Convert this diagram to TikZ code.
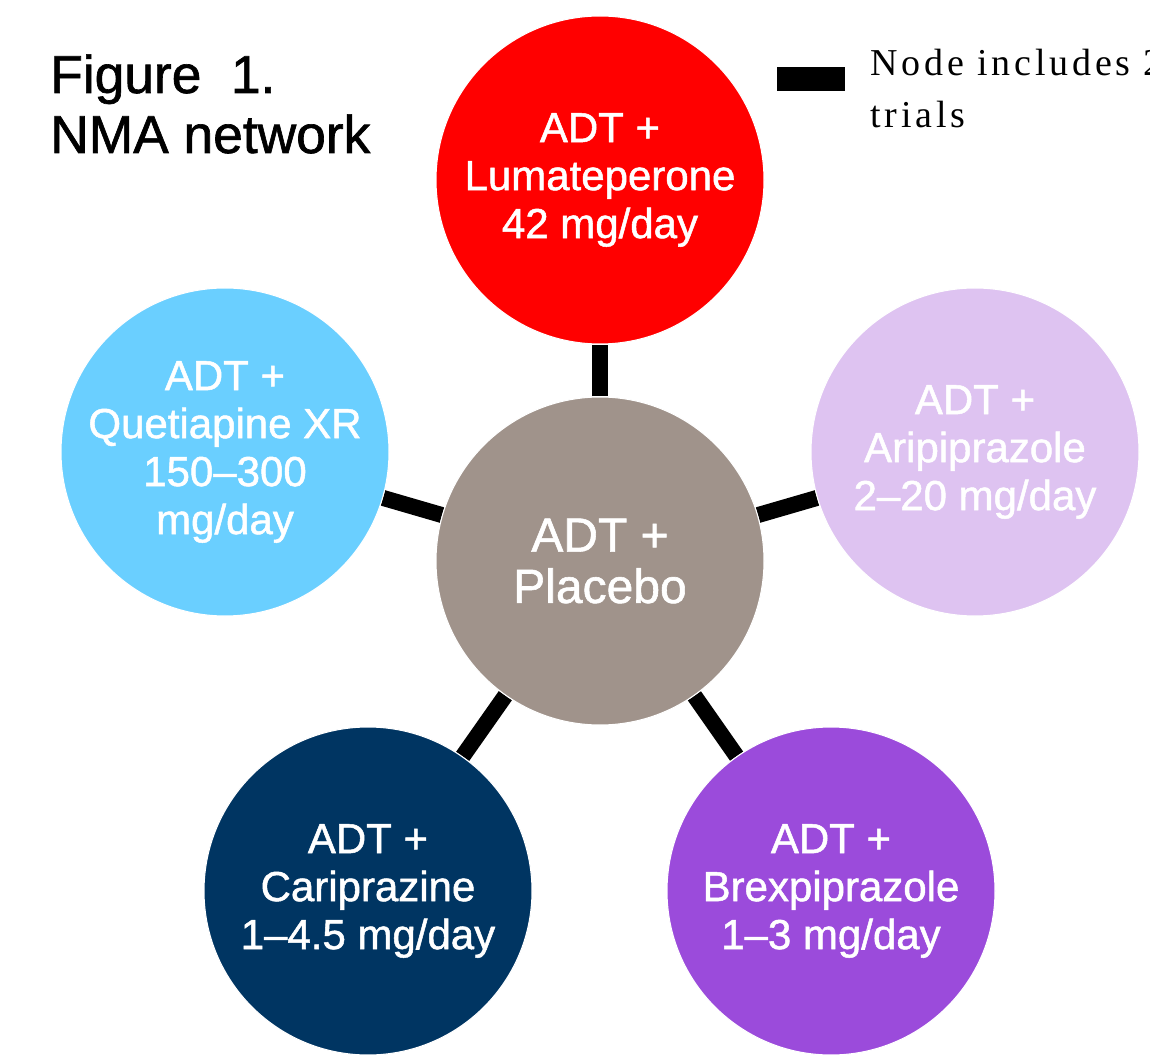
\documentclass[tikz,border=0pt]{standalone}
\usepackage{fontspec}
\setmainfont{Liberation Sans}
\newfontfamily\labelfont{Liberation Sans}[FakeBold=1.2]
\newfontfamily\legendfont{Liberation Serif}[LetterSpace=10]
\usetikzlibrary{backgrounds}

\definecolor{placebogray}{HTML}{A0938B}
\definecolor{lumared}{HTML}{FF0000}
\definecolor{quetblue}{HTML}{6ACFFF}
\definecolor{ariplav}{HTML}{DEC3F1}
\definecolor{caripnavy}{HTML}{003562}
\definecolor{brexpurple}{HTML}{9B4BDB}

\tikzset{
  arm/.style={circle, minimum size=246pt, inner sep=0pt, draw=white, line width=0.8pt,
    text=white, align=center, font=\labelfont\fontsize{31.5pt}{36pt}\selectfont},
  hub/.style={arm, font=\labelfont\fontsize{36pt}{38.5pt}\selectfont},
  link/.style={draw=black, line width=12pt, line cap=butt},
  titletext/.style={anchor=base west, inner sep=0pt, font=\labelfont\fontsize{40pt}{45pt}\selectfont},
  legendtext/.style={anchor=base west, inner sep=0pt, font=\legendfont\fontsize{28.5pt}{34pt}\selectfont},
}

\begin{document}
\begin{tikzpicture}[x=0.75pt, y=-0.75pt]
  \clip (0,0) rectangle (1150,1055);

  % title
  \node[titletext] (title1) at (50,93) {Figure\ \ 1.};
  \node[titletext] (title2) at (50,153) {NMA network};

  % legend
  \coordinate (legA) at (777,79);
  \coordinate (legB) at (845,79);
  \draw[line width=18pt, line cap=butt] (legA) -- (legB);
  \node[legendtext] (leg1) at (870,76) {Node includes 2};
  \node[legendtext] (leg2) at (870,128) {trials};

  % network nodes
  \node[hub, fill=placebogray] (placebo) at (600,561) {ADT +\\Placebo};
  \node[arm, fill=lumared] (luma) at (600,180) {ADT +\\Lumateperone\\42 mg/day};
  \node[arm, fill=quetblue] (quet) at (225,452) {ADT +\\Quetiapine XR\\150–300\\mg/day};
  \node[arm, fill=ariplav] (arip) at (975,452) {ADT +\\Aripiprazole\\2–20 mg/day};
  \node[arm, fill=caripnavy] (carip) at (368,891) {ADT +\\Cariprazine\\1–4.5 mg/day};
  \node[arm, fill=brexpurple] (brex) at (831,891) {ADT +\\Brexpiprazole\\1–3 mg/day};

  % comparisons, drawn behind the circles
  \begin{scope}[on background layer]
    \fill[white] (0,0) rectangle (1150,1055);
    \draw[link] (placebo) -- (luma);
    \draw[link] (placebo) -- (quet);
    \draw[link] (placebo) -- (arip);
    \draw[link] (placebo) -- (carip);
    \draw[link] (placebo) -- (brex);
  \end{scope}
\end{tikzpicture}
\end{document}
